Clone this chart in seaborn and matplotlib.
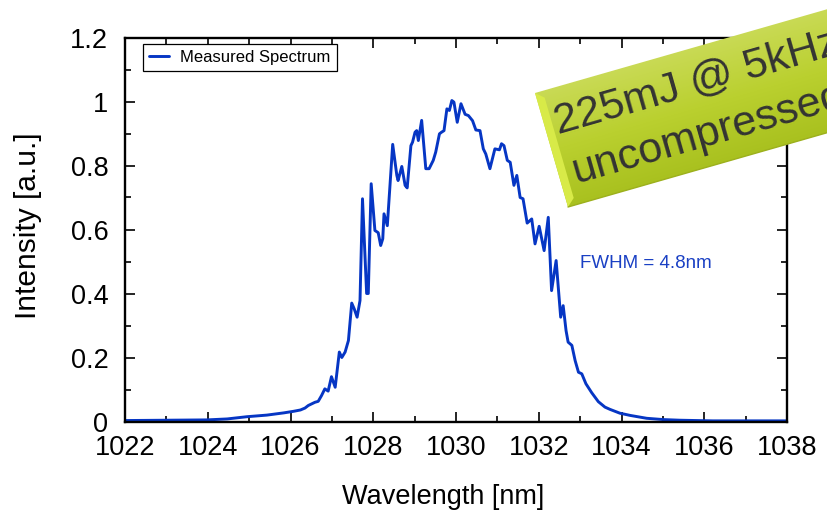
import numpy as np
import pandas as pd
import matplotlib
matplotlib.use("Agg")
import matplotlib.pyplot as plt
from matplotlib.patches import Polygon
from matplotlib.colors import LinearSegmentedColormap
from matplotlib.ticker import MultipleLocator
import seaborn as sns

# spectrum
wavelength_nm = [
    1022.00, 1023.02, 1023.98, 1024.47, 1024.95, 1025.43, 1025.84, 1026.08,
    1026.24, 1026.35, 1026.43, 1026.59, 1026.67, 1026.75, 1026.83, 1026.91,
    1026.99, 1027.08, 1027.18, 1027.24, 1027.32, 1027.40, 1027.48, 1027.54,
    1027.61, 1027.68, 1027.74, 1027.84, 1027.88, 1027.95, 1028.04, 1028.12,
    1028.18, 1028.23, 1028.26, 1028.34, 1028.47, 1028.57, 1028.60, 1028.69,
    1028.77, 1028.82, 1028.91, 1028.95, 1029.01, 1029.05, 1029.09, 1029.17,
    1029.27, 1029.35, 1029.45, 1029.51, 1029.60, 1029.65, 1029.71, 1029.78,
    1029.84, 1029.90, 1029.95, 1030.03, 1030.12, 1030.22, 1030.30, 1030.40,
    1030.48, 1030.58, 1030.66, 1030.72, 1030.82, 1030.94, 1031.05, 1031.10,
    1031.16, 1031.24, 1031.31, 1031.40, 1031.47, 1031.55, 1031.62, 1031.72,
    1031.83, 1031.91, 1032.01, 1032.13, 1032.23, 1032.31, 1032.42, 1032.53,
    1032.59, 1032.66, 1032.71, 1032.80, 1032.88, 1032.96, 1033.04, 1033.14,
    1033.28, 1033.44, 1033.60, 1033.72, 1033.96, 1034.21, 1034.61, 1035.01,
    1035.41, 1036.21, 1037.11, 1038.00,
]
intensity = [
    0.003, 0.004, 0.005, 0.008, 0.015, 0.020, 0.027, 0.032,
    0.036, 0.042, 0.050, 0.060, 0.063, 0.081, 0.102, 0.095,
    0.140, 0.107, 0.217, 0.200, 0.217, 0.253, 0.370, 0.352,
    0.326, 0.378, 0.696, 0.400, 0.400, 0.743, 0.597, 0.590,
    0.550, 0.571, 0.649, 0.612, 0.866, 0.769, 0.753, 0.797,
    0.738, 0.730, 0.862, 0.873, 0.904, 0.909, 0.878, 0.941,
    0.790, 0.790, 0.816, 0.842, 0.899, 0.904, 0.909, 0.977,
    0.972, 1.003, 0.998, 0.935, 0.993, 0.960, 0.956, 0.940,
    0.911, 0.909, 0.852, 0.836, 0.790, 0.852, 0.849, 0.868,
    0.862, 0.816, 0.810, 0.738, 0.769, 0.700, 0.696, 0.620,
    0.633, 0.555, 0.610, 0.534, 0.638, 0.409, 0.503, 0.326,
    0.362, 0.284, 0.248, 0.238, 0.190, 0.154, 0.149, 0.118,
    0.090, 0.062, 0.045, 0.038, 0.026, 0.019, 0.010, 0.006,
    0.004, 0.002, 0.002, 0.002,
]

legend_label = "Measured Spectrum"
fwhm_text = "FWHM = 4.8nm"
banner_lines = ["225mJ @ 5kHz", "uncompressed"]
x_ticks = [1022, 1024, 1026, 1028, 1030, 1032, 1034, 1036, 1038]
y_ticks = [0, 0.2, 0.4, 0.6, 0.8, 1.0, 1.2]
y_tick_labels = ["0", "0.2", "0.4", "0.6", "0.8", "1", "1.2"]

LINE_COLOR = "#0636c4"
W, H = 827, 516

sns.set_style("ticks")
plt.rcParams["font.family"] = ["Liberation Sans", "DejaVu Sans"]
plt.rcParams["text.color"] = "black"
plt.rcParams["axes.labelcolor"] = "black"
plt.rcParams["xtick.color"] = "black"
plt.rcParams["ytick.color"] = "black"

fig = plt.figure(figsize=(W / 100, H / 100), dpi=100)
ax = fig.add_axes([125 / W, 1 - 421.5 / H, 662 / W, 384 / H])

df = pd.DataFrame({"Wavelength": wavelength_nm, "Intensity": intensity})
sns.lineplot(data=df, x="Wavelength", y="Intensity", ax=ax,
             color=LINE_COLOR, linewidth=2.1, label=legend_label)

ax.set_xlim(1022, 1038)
ax.set_ylim(0, 1.2)
ax.set_xticks(x_ticks)
ax.set_yticks(y_ticks, labels=y_tick_labels)
ax.xaxis.set_minor_locator(MultipleLocator(1))
ax.yaxis.set_minor_locator(MultipleLocator(0.1))
ax.tick_params(which="both", direction="in", top=True, right=True,
               color="black", labelcolor="black", width=1.2)
ax.tick_params(which="major", length=7, labelsize=19.5)
ax.tick_params(axis="x", which="major", pad=10)
ax.tick_params(axis="y", which="major", pad=12)
ax.tick_params(which="minor", length=4)
for sp in ax.spines.values():
    sp.set_linewidth(1.7)
    sp.set_color("black")

ax.set_xlabel("Wavelength [nm]", fontsize=19.5, color="black")
ax.set_ylabel("Intensity [a.u.]", fontsize=21.5, color="black")
ax.xaxis.set_label_coords(0.48, -0.162)
ax.yaxis.set_label_coords(-0.126, 0.51)

leg = ax.legend(loc="upper left", bbox_to_anchor=(0.027, 0.983), fontsize=12,
                frameon=True, fancybox=False, framealpha=1, edgecolor="black",
                handlelength=1.2, handletextpad=0.7, borderpad=0.35,
                borderaxespad=0)
leg.get_frame().set_linewidth(0.9)

ax.text(1033.0, 0.495, fwhm_text, fontsize=13.5, color="#1a40c4",
        ha="left", va="center")

# tilted banner on top of everything, drawn in pixel space
ov = fig.add_axes([0, 0, 1, 1], zorder=5)
ov.axis("off")
ang = np.deg2rad(16)
u = np.array([np.cos(ang), -np.sin(ang)])
tl = np.array([535.0, 93.0])
bl = np.array([568.0, 207.0])
length = 420
corners = [tl, tl + length * u, bl + length * u, bl]
poly = Polygon(corners, closed=True, facecolor="none", edgecolor="none")
ov.add_patch(poly)

yy, xx = np.mgrid[0:H, 0:W] + 0.5
n = bl - tl
t = ((xx - tl[0]) * n[0] + (yy - tl[1]) * n[1]) / np.dot(n, n)
cmap = LinearSegmentedColormap.from_list(
    "banner", ["#c9da55", "#bad02f", "#a9c11f"])
im = ov.imshow(np.clip(t, 0, 1), cmap=cmap, extent=(0, W, H, 0),
               aspect="auto", interpolation="bilinear")
im.set_clip_path(poly)

bevel = Polygon([tl, tl + 8 * u + 0.06 * n, bl + 8 * u - 0.06 * n, bl],
                closed=True, facecolor="#d8ea48", edgecolor="none")
ov.add_patch(bevel)
ov.plot([bl[0], bl[0] + length * u[0]], [bl[1], bl[1] + length * u[1]],
        color="#9cb01c", linewidth=1.0)

ov.text(558, 134, banner_lines[0], rotation=16, rotation_mode="anchor",
        ha="left", va="baseline", fontsize=31, color="#333333")
ov.text(576, 183, banner_lines[1], rotation=16, rotation_mode="anchor",
        ha="left", va="baseline", fontsize=31, color="#333333")
ov.set_xlim(0, W)
ov.set_ylim(H, 0)

fig.savefig("out.png", dpi=100)
